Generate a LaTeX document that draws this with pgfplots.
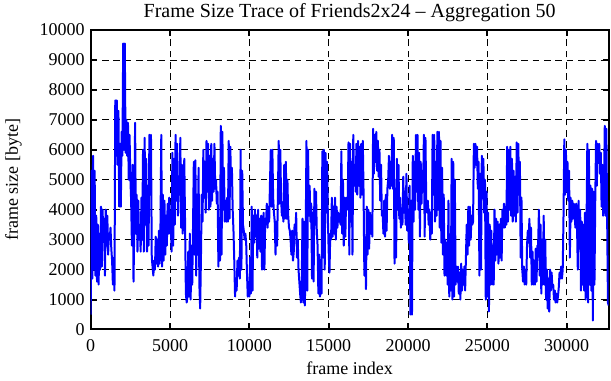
\documentclass[border=0pt]{standalone}
\usepackage{fontspec}
\setmainfont{Liberation Serif}
\usepackage{pgfplots}
\pgfplotsset{compat=1.18}
\begin{document}
\fontsize{13.5}{15}\selectfont
\begin{tikzpicture}
\begin{axis}[
  scale only axis, width=388.5pt, height=224.6pt,
  xmin=0, xmax=32650, ymin=0, ymax=10000,
  xtick={0,5000,...,30000}, ytick={0,1000,...,10000},
  scaled ticks=false,
  /pgf/number format/1000 sep={},
  /pgf/number format/assume math mode=true,
  grid=major,
  major grid style={black, line width=0.6pt, dash pattern=on 5pt off 3.5pt},
  axis line style={black, line width=1.5pt},
  tick style={black, line width=1.5pt},
  major tick length=4.5pt, tick align=inside,
  title={Frame Size Trace of Friends2x24 -- Aggregation 50},
  title style={at={(axis description cs:0.5,1)}, anchor=base, yshift=3pt, inner sep=0pt, font=\fontsize{15}{17}\selectfont},
  xlabel={frame index}, ylabel={frame size [byte]},
  xlabel style={at={(axis description cs:0.5,0)}, anchor=base, yshift=-34pt, inner sep=0pt},
  ylabel style={at={(axis description cs:-0.1403,0.5)}, anchor=base, inner sep=0pt},
  xticklabel style={inner sep=0pt, yshift=-7.5pt},
  yticklabel style={inner sep=0pt, xshift=-4.3pt},
]
\addplot[color={rgb,255:red,0;green,0;blue,255}, line width=1.5pt, line join=round] coordinates {
(0,500)(50,5300)(100,1700)(150,5800)(200,2000)(250,5300)(300,1800)(350,3800)(400,1600)(450,3500)(500,1500)(550,3200)(600,2000)(650,4100)(700,2100)(750,4000)(800,3000)(850,3700)(900,1800)(950,4000)(1000,2800)(1050,3800)(1100,2500)(1150,3200)(1200,3000)(1250,3400)(1300,2700)(1350,2300)(1400,1500)(1450,2400)(1500,1300)(1550,7650)(1600,5800)(1650,7650)(1700,5500)(1750,7300)(1800,4100)(1850,6200)(1900,4100)(1950,6600)(2000,5800)(2050,9550)(2100,6000)(2150,9550)(2200,5900)(2250,7000)(2300,5800)(2350,6900)(2400,5000)(2450,6500)(2500,5100)(2550,4300)(2600,2800)(2650,5500)(2700,1600)(2750,3500)(2800,6900)(2850,3200)(2900,4500)(2950,2600)(3000,4300)(3050,3000)(3100,3400)(3150,2600)(3200,4400)(3250,3000)(3300,6000)(3350,2600)(3400,6400)(3450,3500)(3500,5700)(3550,2600)(3600,4800)(3650,2800)(3700,6500)(3750,4500)(3800,6500)(3850,2400)(3900,2100)(3950,1800)(4000,2300)(4050,2000)(4100,3100)(4150,2200)(4200,3000)(4250,2100)(4300,3300)(4350,2200)(4400,3500)(4450,6500)(4500,2100)(4550,4500)(4600,2300)(4650,4300)(4700,2500)(4750,3800)(4800,2800)(4850,4200)(4900,3200)(4950,4400)(5000,3200)(5050,3600)(5100,2600)(5150,5900)(5200,2800)(5250,5700)(5300,3500)(5350,6500)(5400,4300)(5450,6200)(5500,3800)(5550,5000)(5600,4500)(5650,6400)(5700,3400)(5750,5500)(5800,3200)(5850,4700)(5900,5700)(5950,3500)(6000,1200)(6050,900)(6100,1100)(6150,2600)(6200,1100)(6250,3200)(6300,1000)(6350,2800)(6400,1500)(6450,3400)(6500,5600)(6550,2500)
(6600,5650)(6650,1800)(6700,4500)(6750,2500)(6800,5400)(6850,1500)(6900,700)(6950,2400)(7000,4500)(7050,3600)(7100,6000)(7150,4400)(7200,5600)(7250,3900)(7300,6300)(7350,4600)(7400,6200)(7450,4000)(7500,5800)(7550,4100)(7600,6200)(7650,4300)(7700,5700)(7750,4600)(7800,6200)(7850,4700)(7900,5000)(7950,4200)(8000,4600)(8050,2100)(8100,3500)(8150,2300)(8200,6800)(8250,2500)(8300,6600)(8350,4000)(8400,5400)(8450,3600)(8500,4300)(8550,3600)(8600,4400)(8650,3600)(8700,6300)(8750,3700)(8800,6100)(8850,4800)(8900,5400)(8950,4000)(9000,3300)(9050,2300)(9100,1100)(9150,1700)(9200,1300)(9250,2300)(9300,1800)(9350,2400)(9400,1700)(9450,6000)(9500,2000)(9550,5300)(9600,3500)(9650,3300)(9700,3000)(9750,3200)(9800,2900)(9850,1900)(9900,1100)(9950,1300)(10000,1100)(10050,2400)(10100,1200)(10150,4100)(10200,1300)(10250,3800)(10300,2900)(10350,4000)(10400,3100)(10450,3800)(10500,2400)(10550,4000)(10600,2700)(10650,3700)(10700,2600)(10750,3800)(10800,2000)(10850,3300)(10900,3900)(10950,2000)(11000,3700)(11050,3500)(11100,4200)(11150,3400)(11200,4100)(11250,3600)(11300,4900)(11350,6000)(11400,4100)(11450,6000)(11500,4400)(11550,3900)(11600,3600)(11650,2500)(11700,3600)(11750,2800)(11800,4500)(11850,6300)(11900,4200)(11950,6000)(12000,4400)(12050,3800)(12100,4000)(12150,3600)(12200,5500)(12250,3700)(12300,5600)(12350,3700)(12400,5000)(12450,3800)(12500,3400)(12550,3300)(12600,3000)(12650,2500)(12700,3300)(12750,2300)(12800,2600)(12850,3500)(12900,3200)
(12950,3900)(13000,2400)(13050,3000)(13100,2000)(13150,1600)(13200,1200)(13250,900)(13300,1500)(13350,3700)(13400,900)(13450,3600)(13500,800)(13550,3000)(13600,6300)(13650,1300)(13700,6000)(13750,3800)(13800,4800)(13850,3600)(13900,4200)(13950,1700)(14000,3900)(14050,1600)(14100,4700)(14150,3500)(14200,4600)(14250,3300)(14300,2800)(14350,1200)(14400,2500)(14450,1100)(14500,1500)(14550,1200)(14600,5950)(14650,2400)(14700,6000)(14750,2000)(14800,5900)(14850,3900)(14900,5600)(14950,3700)(15000,2600)(15050,1900)(15100,3200)(15150,3000)(15200,4400)(15250,3100)(15300,4100)(15350,3200)(15400,4400)(15450,3000)(15500,4100)(15550,3400)(15600,3900)(15650,3600)(15700,3800)(15750,3500)(15800,5950)(15850,3200)(15900,5000)(15950,2800)(16000,4400)(16050,3100)(16100,4400)(16150,4000)(16200,4300)(16250,6250)(16300,2500)(16350,6200)(16400,3600)(16450,5600)(16500,2500)(16550,6500)(16600,4800)(16650,5500)(16700,4600)(16750,6200)(16800,4500)(16850,6300)(16900,4800)(16950,6100)(17000,4400)(17050,6200)(17100,4500)(17150,6300)(17200,4500)(17250,1800)(17300,2800)(17350,1350)(17400,4100)(17450,2500)(17500,4000)(17550,2700)(17600,3900)(17650,3200)(17700,3800)(17750,3100)(17800,6700)(17850,5200)(17900,6500)(17950,5600)(18000,6600)(18050,5300)(18100,6300)(18150,5100)(18200,6000)(18250,4300)(18300,5500)(18350,3800)(18400,3900)(18450,3200)(18500,4300)(18550,3100)(18600,4500)(18650,3300)(18700,4700)(18750,5000)(18800,5800)(18850,4700)(18900,5600)(18950,4800)(19000,6500)(19050,4700)(19100,6400)(19150,2200)(19200,4700)(19250,2400)(19300,5700)(19350,4000)(19400,5500)(19450,3700)(19500,4400)(19550,3400)(19600,4000)(19650,3500)(19700,5100)(19750,3900)(19800,4600)
(19850,3500)(19900,5200)(19950,3300)(20000,4000)(20050,2900)(20100,4800)(20150,500)(20200,4300)(20250,500)(20300,5800)(20350,3600)(20400,5600)(20450,4000)(20500,6500)(20550,4600)(20600,6500)(20650,4000)(20700,5900)(20750,3100)(20800,5600)(20850,4200)(20900,5300)(20950,4600)(21000,6500)(21050,3100)(21100,6400)(21150,4200)(21200,3900)(21250,4300)(21300,3500)(21350,4000)(21400,3000)(21450,3600)(21500,3200)(21550,6500)(21600,4500)(21650,6500)(21700,3600)(21750,5600)(21800,3800)(21850,6600)(21900,4000)(21950,6600)(22000,3400)(22050,6300)(22100,2900)(22150,5400)(22200,2500)(22250,4500)(22300,1800)(22350,3000)(22400,1800)(22450,2900)(22500,1500)(22550,4300)(22600,1100)(22650,3000)(22700,1300)(22750,5700)(22800,1000)(22850,5600)(22900,1100)(22950,5000)(23000,1500)(23050,2100)(23100,1600)(23150,2100)(23200,1200)(23250,1900)(23300,1000)(23350,2200)(23400,1300)(23450,2000)(23500,1500)(23550,2100)(23600,1300)(23650,2400)(23700,3500)(23750,2500)(23800,4100)(23850,2800)(23900,4100)(23950,3000)(24000,3800)(24050,3500)(24100,3600)(24150,6200)(24200,5400)(24250,6200)(24300,5500)(24350,6100)(24400,4700)(24450,5600)(24500,1800)(24550,5200)(24600,2000)(24650,5800)(24700,4500)(24750,5700)(24800,3900)(24850,5000)(24900,1000)(24950,4600)(25000,1100)(25050,3900)(25100,600)(25150,3500)(25200,1500)(25250,3300)(25300,1500)(25350,2800)(25400,1500)(25450,4000)(25500,2300)(25550,3700)(25600,2500)(25650,3600)(25700,2200)(25750,3500)(25800,2400)(25850,3700)(25900,2300)(25950,4000)(26000,3400)(26050,4200)(26100,3400)(26150,4100)(26200,3500)(26250,6100)(26300,3600)
(26350,6000)(26400,4000)(26450,6100)(26500,3800)(26550,5700)(26600,3600)(26650,5300)(26700,3800)(26750,5100)(26800,3600)(26850,6250)(26900,3900)(26950,6200)(27000,4500)(27050,5600)(27100,2400)(27150,4400)(27200,2000)(27250,1600)(27300,2100)(27350,1500)(27400,2000)(27450,1500)(27500,2800)(27550,3300)(27600,2900)(27650,3700)(27700,2400)(27750,3400)(27800,1500)(27850,2600)(27900,1500)(27950,2300)(28000,1500)(28050,2700)(28100,1600)(28150,2800)(28200,2800)(28250,4000)(28300,1800)(28350,3500)(28400,1200)(28450,3000)(28500,1500)(28550,3800)(28600,1500)(28650,3000)(28700,1000)(28750,2000)(28800,700)(28850,1700)(28900,600)(28950,2000)(29000,1300)(29050,1900)(29100,1400)(29150,1500)(29200,1000)(29250,1300)(29300,900)(29350,1200)(29400,900)(29450,1100)(29500,1400)(29550,1900)(29600,1700)(29650,2100)(29700,1700)(29750,2000)(29800,3800)(29850,6350)(29900,4500)(29950,6000)(30000,4600)(30050,5600)(30100,4300)(30150,5300)(30200,2400)(30250,4400)(30300,3600)(30350,4300)(30400,3700)(30450,4200)(30500,3800)(30550,3400)(30600,4200)(30650,3500)(30700,2000)(30750,4300)(30800,2700)(30850,4000)(30900,1300)(30950,3600)(31000,1500)(31050,3500)(31100,1300)(31150,3900)(31200,1000)(31250,3400)(31300,6200)(31350,900)(31400,6000)(31450,1500)(31500,4800)(31550,1300)(31600,4700)(31650,300)(31700,4600)(31750,1500)(31800,4300)(31850,6300)(31900,4800)(31950,6200)(32000,5600)(32050,6200)(32100,5200)(32150,5900)(32200,4100)(32250,5500)(32300,3800)(32350,4600)(32400,6800)(32450,3800)(32500,6700)(32550,3700)(32600,900)(32650,800)
};
\end{axis}
\path (current axis.south west) ++(-68pt,-37.9pt) coordinate (bbbl);
\path (current axis.north east) ++(1.7pt,22.5pt) coordinate (bbtr);
\pgfresetboundingbox
\path (bbbl) rectangle (bbtr);
\end{tikzpicture}
\end{document}
